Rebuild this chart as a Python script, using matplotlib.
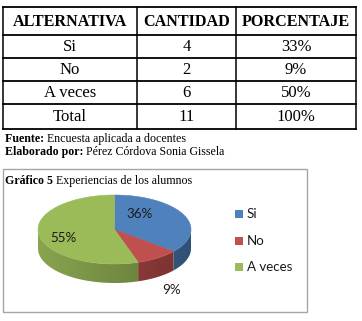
import numpy as np
import matplotlib
matplotlib.use("Agg")
import matplotlib.pyplot as plt
from matplotlib.patches import Polygon, Rectangle

# ---- data ----
headers = ["ALTERNATIVA", "CANTIDAD", "PORCENTAJE"]
alternativas = ["Si", "No", "A veces", "Total"]
cantidad = ["4", "2", "6", "11"]
porcentaje = ["33%", "9%", "50%", "100%"]

pie_labels = ["Si", "No", "A veces"]
pie_values = [36, 9, 55]
pie_colors = ["#4F81BD", "#C0504D", "#9BBB59"]

fuente = "Encuesta aplicada a docentes"
elaborado = "Pérez Córdova Sonia Gissela"
chart_title_bold = "Gráfico 5"
chart_title = "Experiencias de los alumnos"

# ---- figure ----
fig = plt.figure(figsize=(3.62, 3.21), dpi=100)
ax = fig.add_axes([0, 0, 1, 1])
ax.set_xlim(0, 362)
ax.set_ylim(321, 0)
ax.axis("off")

serif = "Liberation Serif"
sans = ["Lato", "DejaVu Sans"]

# ---- table ----
col_x = [3, 137, 236, 356]
row_y = [7, 35, 58, 81, 104, 129]
for x in col_x:
    ax.plot([x, x], [row_y[0], row_y[-1]], color="black", lw=1.1)
for y in row_y:
    ax.plot([col_x[0], col_x[-1]], [y, y], color="black", lw=1.3)

rows = [headers] + [[a, c, p] for a, c, p in zip(alternativas, cantidad, porcentaje)]
for r, row in enumerate(rows):
    yc = (row_y[r] + row_y[r + 1]) / 2 + 0.5
    for c, txt in enumerate(row):
        xc = (col_x[c] + col_x[c + 1]) / 2
        ax.text(xc, yc, txt, ha="center", va="center", family=serif,
                fontsize=11.6 if r == 0 else 12,
                fontweight="bold" if r == 0 else "normal", color="black")

fig.canvas.draw()
rend = fig.canvas.get_renderer()
inv = ax.transData.inverted()


def bold_then_normal(x, y, bold, normal, size):
    t = ax.text(x, y, bold + " ", ha="left", va="center", family=serif,
                fontsize=size, fontweight="bold")
    bb = t.get_window_extent(rend)
    xd = inv.transform((bb.x1, bb.y0))[0]
    ax.text(xd, y, normal, ha="left", va="center", family=serif, fontsize=size)


# ---- footnotes ----
bold_then_normal(5, 139, "Fuente:", fuente, 8.6)
bold_then_normal(5, 152, "Elaborado por:", elaborado, 8.6)

# ---- chart box ----
ax.add_patch(Rectangle((3, 169), 304, 143, facecolor="white",
                       edgecolor="#A6A6A6", lw=1.0))
bold_then_normal(5, 181, chart_title_bold, chart_title, 8.6)

# ---- 3D pie ----
cx, cy, a, b, depth = 114.5, 229.5, 76.5, 34.5, 19

vals = np.array(pie_values, float)
fr = vals / vals.sum()
starts = 90 - 360 * np.concatenate([[0], np.cumsum(fr)[:-1]])
ends = starts - 360 * fr


def pt(theta_deg):
    th = np.radians(theta_deg)
    return cx + a * np.cos(th), cy - b * np.sin(th)


# sides (front half only: angles in [-180, 0]) with horizontal shading gradient
xs = np.linspace(-1, 1, 300)
shade = 0.88 - 0.26 * (xs + 1) / 2
for s, e, col in zip(starts, ends, pie_colors):
    for off in (0, -360):
        lo2, hi2 = max(e, -180 + off), min(s, 0 + off)
        if hi2 <= lo2:
            continue
        ts = np.linspace(lo2, hi2, 100)
        top = [pt(t) for t in ts]
        bot = [(x, y + depth) for x, y in top[::-1]]
        poly = Polygon(top + bot, closed=True, facecolor="none", edgecolor="none")
        ax.add_patch(poly)
        rgb = np.array(matplotlib.colors.to_rgb(col))
        img = np.clip(shade[None, :, None] * rgb[None, None, :], 0, 1)
        im = ax.imshow(img, extent=(cx - a, cx + a, cy + depth + b + 2, cy - b - 2),
                       aspect="auto", interpolation="bilinear", zorder=1)
        im.set_clip_path(poly)

ax.set_xlim(0, 362)
ax.set_ylim(321, 0)

# top faces
for s, e, col in zip(starts, ends, pie_colors):
    ts = np.linspace(s, e, 120)
    pts = [(cx, cy)] + [pt(t) for t in ts]
    ax.add_patch(Polygon(pts, closed=True, facecolor=col, edgecolor=col, lw=0.4,
                         zorder=2))

# value labels
label_pos = [(140, 214), (172, 290), (63, 238)]
for v, (lx, ly) in zip(pie_values, label_pos):
    ax.text(lx, ly, f"{v}%", ha="center", va="center", family=sans,
            fontsize=9.6, color="#1a1a1a", zorder=3)

# legend
leg_y = [214, 241, 267]
for lab, col, ly in zip(pie_labels, pie_colors, leg_y):
    ax.add_patch(Rectangle((235, ly - 4), 8, 8, facecolor=col, edgecolor="none"))
    ax.text(247, ly, lab, ha="left", va="center", family=sans, fontsize=9.6,
            color="#1a1a1a")

fig.savefig("out.png", dpi=100)
